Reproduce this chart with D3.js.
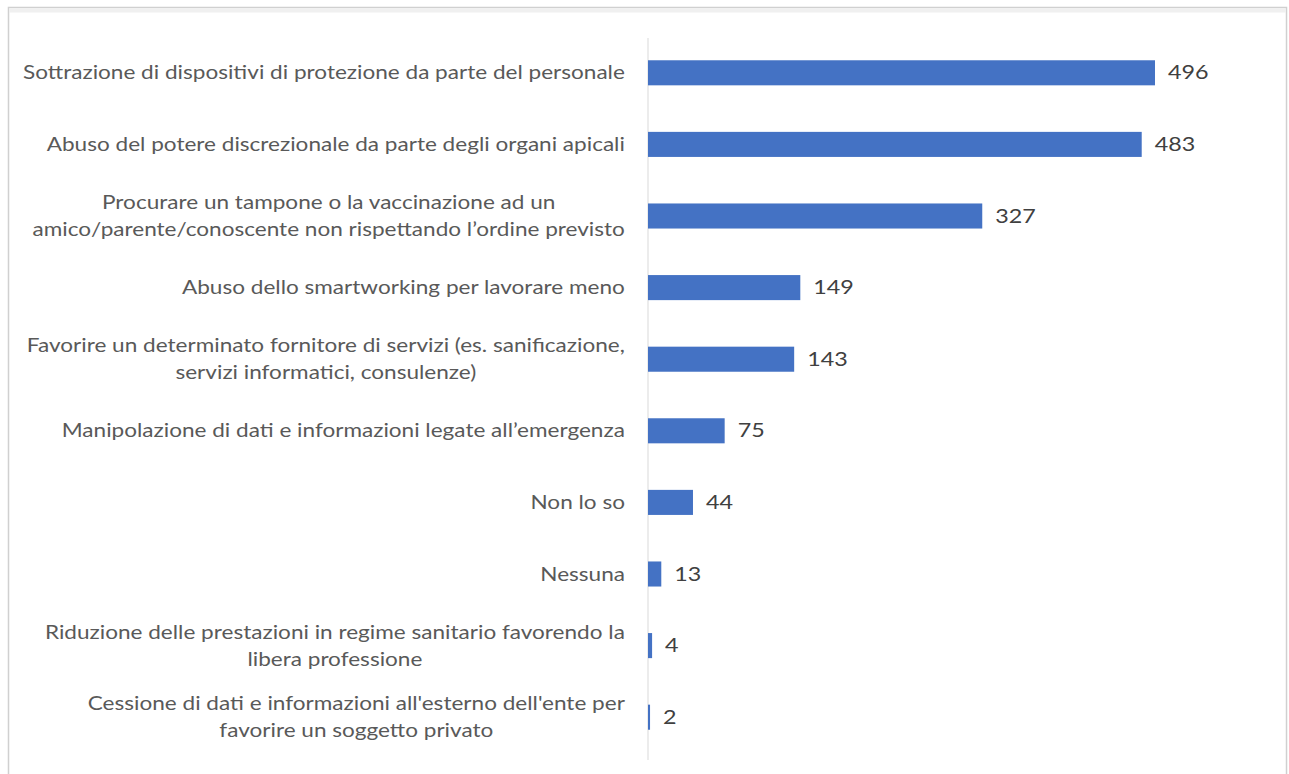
<!DOCTYPE html>
<html><head><meta charset="utf-8">
<script src="https://cdn.jsdelivr.net/npm/d3@7"></script>
<style>body{margin:0;background:#fff;overflow:hidden}svg{display:block}</style>
</head><body>
<svg id="c" width="1289" height="774"></svg>
<script>
const categories = [
  ["Sottrazione di dispositivi di protezione da parte del personale"],
  ["Abuso del potere discrezionale da parte degli organi apicali"],
  ["Procurare un tampone o la vaccinazione ad un", "amico/parente/conoscente non rispettando l\u2019ordine previsto"],
  ["Abuso dello smartworking per lavorare meno"],
  ["Favorire un determinato fornitore di servizi (es. sanificazione,", "servizi informatici, consulenze)"],
  ["Manipolazione di dati e informazioni legate all\u2019emergenza"],
  ["Non lo so"],
  ["Nessuna"],
  ["Riduzione delle prestazioni in regime sanitario favorendo la", "libera professione"],
  ["Cessione di dati e informazioni all'esterno dell'ente per", "favorire un soggetto privato"]
];
const values = [496, 483, 327, 149, 143, 75, 44, 13, 4, 2];

const svg = d3.select("#c");
// frame
svg.append("rect").attr("x",8.5).attr("y",7.5).attr("width",1278).attr("height",800)
  .attr("fill","#fff").attr("stroke","#d0d0d0").attr("stroke-width",1.5);
svg.append("rect").attr("x",9).attr("y",8.5).attr("width",1277).attr("height",4)
  .attr("fill","#f0f0f0");

const x0 = 648;
const x = d3.scaleLinear().domain([0, 496]).range([x0, 1155]);
const idx = d3.range(categories.length);
const y = d3.scaleBand().domain(idx).range([37, 753]).paddingInner(0.65).paddingOuter(0.325);

// axis line
svg.append("line").attr("x1",x0).attr("x2",x0).attr("y1",38).attr("y2",760)
  .attr("stroke","#d9d9d9").attr("stroke-width",1);

svg.selectAll("rect.bar").data(idx).enter().append("rect").attr("class","bar")
  .attr("x", x0).attr("y", i => y(i)).attr("height", y.bandwidth())
  .attr("width", i => x(values[i]) - x0).attr("fill", "#4472C4");

const font = "Lato, 'Open Sans', sans-serif";
const sx = 1.22;
svg.selectAll("text.val").data(idx).enter().append("text").attr("class","val")
  .attr("transform", i => `translate(${x(values[i]) + 13},${y(i) + y.bandwidth()/2}) scale(1.26,1)`)
  .attr("dy","0.36em").attr("font-family",font).attr("font-size",18.5)
  .attr("fill","#404040").text(i => values[i]);

const labelRight = 625;
idx.forEach(i => {
  const lines = categories[i];
  const cy = y(i) + y.bandwidth()/2;
  const g = svg.append("g");
  const lh = 27;
  const ts = lines.map((l, k) => g.append("text")
    .attr("dy","0.36em")
    .attr("font-family",font).attr("font-size",18.5).attr("fill","#595959")
    .attr("text-anchor","middle").text(l));
  const w = d3.max(ts, t => t.node().getComputedTextLength()) * sx;
  ts.forEach((t, k) => t.attr("transform",
    `translate(${labelRight - w/2},${cy + (k - (lines.length-1)/2)*lh}) scale(${sx},1)`));
});
</script>
</body></html>
